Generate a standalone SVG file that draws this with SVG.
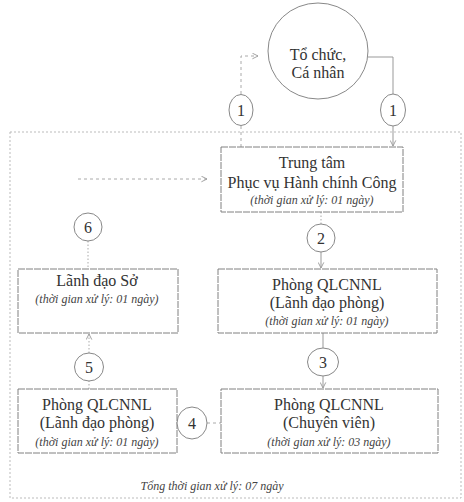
<svg xmlns="http://www.w3.org/2000/svg" width="464" height="502" viewBox="0 0 464 502">
<defs>
<style>
.t{font-family:"Liberation Serif","Times New Roman",serif;font-size:16px;fill:#333;text-anchor:middle}
.i{font-family:"Liberation Serif","Times New Roman",serif;font-size:12px;font-style:italic;fill:#444;text-anchor:middle}
.box{fill:#fff;stroke:#808080;stroke-width:1;stroke-dasharray:7 1}
.c{fill:#fff;stroke:#888;stroke-width:1}
.ln{fill:none;stroke:#999;stroke-width:1}
.dl{fill:none;stroke:#aaa;stroke-width:1;stroke-dasharray:3 3}
.dt{fill:none;stroke:#aaa;stroke-width:1;stroke-dasharray:1.5 2}
</style>
<marker id="ah" viewBox="0 0 10 10" refX="9" refY="5" markerWidth="7" markerHeight="7" orient="auto" markerUnits="userSpaceOnUse">
<path d="M1,1 L9,5 L1,9" fill="none" stroke="#999" stroke-width="1.3"/>
</marker>
</defs>
<rect width="464" height="502" fill="#fff"/>
<rect x="10" y="132" width="451" height="366" fill="none" stroke="#bbb" stroke-width="1" stroke-dasharray="2 2"/>

<g id="connectors">
<path class="ln" d="M368,57 H393 V94"/>
<path class="ln" d="M393,126 V146" marker-end="url(#ah)"/>
<path class="dl" d="M241,147 V126"/>
<path class="dl" d="M241,94 V56 H258" marker-end="url(#ah)"/>
<path class="dl" d="M78,179 H207" marker-end="url(#ah)"/>
<path class="dt" d="M321,212 V224"/>
<path class="ln" d="M321,252 V268" marker-end="url(#ah)"/>
<path class="ln" d="M323,333 V348"/>
<path class="ln" d="M323,376 V388" marker-end="url(#ah)"/>
<path class="dl" d="M207,423 H221"/>
<path class="dt" d="M89,389 V381"/>
<path class="dt" d="M89,353 V334" marker-end="url(#ah)"/>
<path class="dt" d="M88,241 V269"/>
</g>

<g id="n-tochuc">
<ellipse class="c" cx="318" cy="51" rx="50" ry="48"/>
<text class="t" x="318" y="60">Tổ chức,</text>
<text class="t" x="318" y="78">Cá nhân</text>
</g>

<g id="n-c1a"><ellipse class="c" cx="241" cy="110" rx="12" ry="15.5"/><text class="t" x="241" y="116">1</text></g>
<g id="n-c1b"><ellipse class="c" cx="393" cy="110" rx="12.5" ry="16"/><text class="t" x="393" y="116">1</text></g>

<g id="n-trungtam">
<rect class="box" x="221" y="147" width="182" height="65"/>
<text class="t" x="312" y="168">Trung tâm</text>
<text class="t" x="312" y="188">Phục vụ Hành chính Công</text>
<text class="i" x="312" y="204">(thời gian xử lý: 01 ngày)</text>
</g>

<g id="n-c2"><ellipse class="c" cx="321" cy="238" rx="14" ry="14"/><text class="t" x="321" y="244">2</text></g>
<g id="n-c6"><ellipse class="c" cx="88" cy="227" rx="14" ry="14"/><text class="t" x="88" y="233">6</text></g>

<g id="n-lanhdaoso">
<rect class="box" x="18" y="269" width="160" height="64"/>
<text class="t" x="97" y="286">Lãnh đạo Sở</text>
<text class="i" x="97" y="303">(thời gian xử lý: 01 ngày)</text>
</g>

<g id="n-ldphong">
<rect class="box" x="218" y="269" width="219" height="64"/>
<text class="t" x="327" y="290">Phòng QLCNNL</text>
<text class="t" x="327" y="308">(Lãnh đạo phòng)</text>
<text class="i" x="327" y="325">(thời gian xử lý: 01 ngày)</text>
</g>

<g id="n-c3"><ellipse class="c" cx="323" cy="362" rx="15.5" ry="14"/><text class="t" x="323" y="368">3</text></g>
<g id="n-c5"><ellipse class="c" cx="89" cy="367" rx="14.5" ry="14"/><text class="t" x="89" y="373">5</text></g>

<g id="n-ldphong2">
<rect class="box" x="18" y="389" width="159" height="64"/>
<text class="t" x="97" y="410">Phòng QLCNNL</text>
<text class="t" x="97" y="428">(Lãnh đạo phòng)</text>
<text class="i" x="97" y="446">(thời gian xử lý: 01 ngày)</text>
</g>

<g id="n-c4"><ellipse class="c" cx="192" cy="423" rx="15" ry="16"/><text class="t" x="192" y="429">4</text></g>

<g id="n-chuyenvien">
<rect class="box" x="221" y="389" width="217" height="64"/>
<text class="t" x="329" y="410">Phòng QLCNNL</text>
<text class="t" x="329" y="428">(Chuyên viên)</text>
<text class="i" x="329" y="446">(thời gian xử lý: 03 ngày)</text>
</g>

<text class="i" x="212" y="490">Tổng thời gian xử lý: 07 ngày</text>
</svg>
